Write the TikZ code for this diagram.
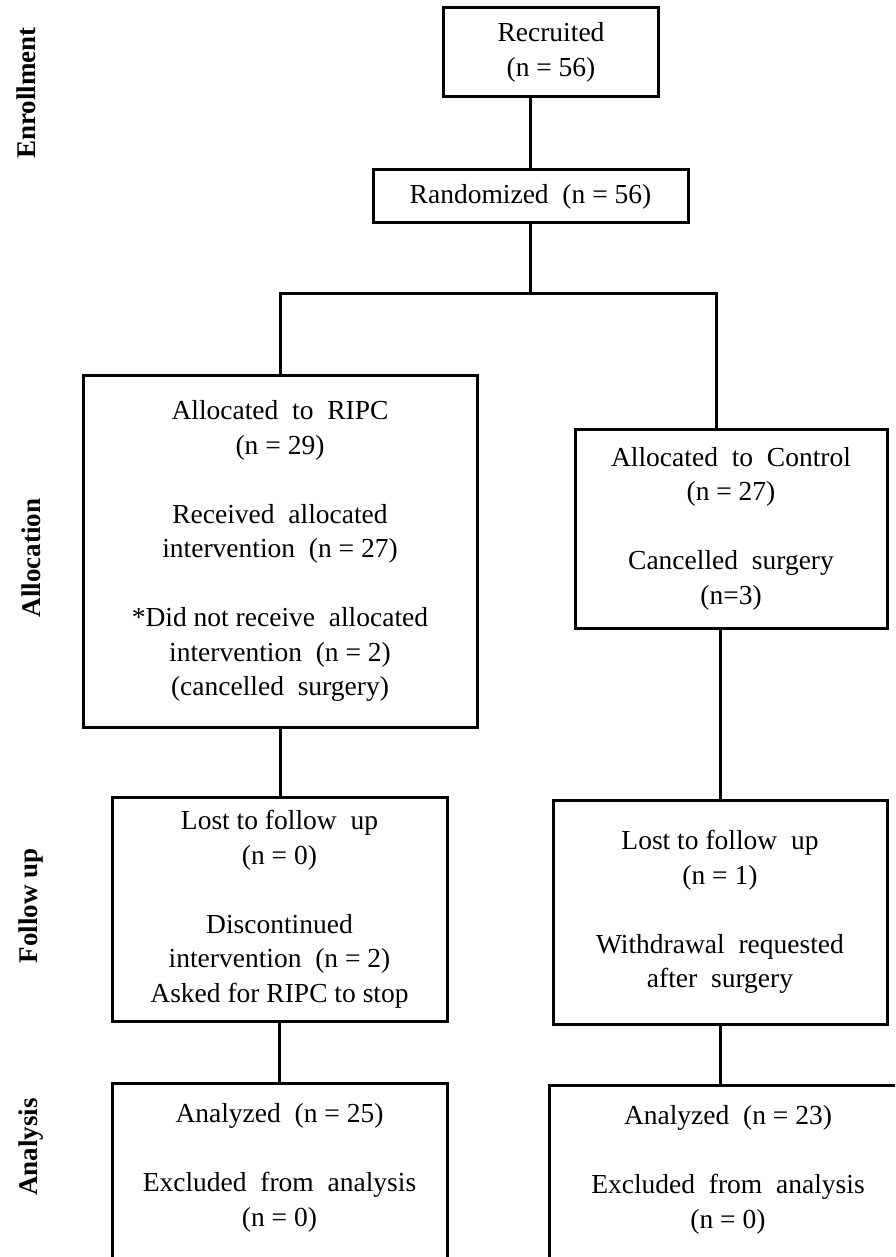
\documentclass[tikz,border=0pt]{standalone}
\usepackage{fontspec}
\setmainfont{Liberation Serif}
\usepackage{tikz}
\usetikzlibrary{positioning, calc}
\newcommand{\wsp}{\ \ }

\begin{document}
\begin{tikzpicture}[
    x=0.5pt, y=-0.5pt,
    bx/.style={draw, line width=1.5pt, align=center,
               inner sep=4pt,
               font=\fontsize{13.75}{17.25}\selectfont},
    side/.style={rotate=90, inner sep=0pt,
                 font=\fontsize{13.5}{16}\selectfont\bfseries},
    ln/.style={line width=1.5pt}
  ]
    \useasboundingbox (0,0) rectangle (895,1257);
    \clip (0,0) rectangle (895,1257);

    %% Stage labels ─────────────────────────────
    \node[side] (lEnr) at (26,93)   {Enrollment};
    \node[side] (lAlc) at (31,558)  {Allocation};
    \node[side] (lFup) at (31,906)  {Follow up};
    \node[side] (lAnl) at (31,1147) {Analysis};

    %% Enrollment ───────────────────────────────
    \node[bx, minimum width=107.5pt, minimum height=44.5pt]
          (rec) at (551,52.5) {Recruited\\(n = 56)};
    \node[bx, minimum width=157.5pt, minimum height=26.5pt]
          (rnd) at (530.5,196.5) {Randomized\wsp(n = 56)};
    \draw[ln] (rnd.north) -- (rnd.north |- rec.south);

    %% Allocation ───────────────────────────────
    \node[bx, minimum width=197pt, minimum height=176pt]
          (alcA) at (280,551)
          {Allocated\wsp to\wsp RIPC\\(n = 29)\\[17.25pt]
           Received\wsp allocated\\intervention\wsp(n = 27)\\[17.25pt]
           *Did not receive\wsp allocated\\intervention\wsp(n = 2)\\
           (cancelled\wsp surgery)};
    \node[bx, minimum width=156pt, minimum height=99.5pt]
          (alcB) at (731,528.5)
          {Allocated\wsp to\wsp Control\\(n = 27)\\[17.25pt]
           Cancelled\wsp surgery\\(n=3)};

    \coordinate (split) at (530.5,293);
    \draw[ln] (rnd.south) -- (split);
    \draw[ln] (alcA.north) |- (split) -| ([xshift=-7.5pt]alcB.north);

    %% Follow up ────────────────────────────────
    \node[bx, minimum width=167.5pt, minimum height=112pt]
          (fupA) at (279.5,909)
          {Lost to follow\wsp up\\(n = 0)\\[17.25pt]
           Discontinued\\intervention\wsp(n = 2)\\
           Asked for RIPC to stop};
    \node[bx, minimum width=167pt, minimum height=112pt]
          (fupB) at (720,912)
          {Lost to follow\wsp up\\(n = 1)\\[17.25pt]
           Withdrawal\wsp requested\\after\wsp surgery};

    \draw[ln] (alcA.south) -- (alcA.south |- fupA.north);
    \draw[ln] (fupB.north) -- (fupB.north |- alcB.south);

    %% Analysis ─────────────────────────────────
    \node[bx, anchor=north, minimum width=167.5pt,
          inner ysep=10pt, text depth=30pt]
          (anlA) at (279.5,1082)
          {Analyzed\wsp(n = 25)\\[17.25pt]
           Excluded\wsp from\wsp analysis\\(n = 0)};
    \node[bx, anchor=north, minimum width=179pt,
          inner ysep=10pt, text depth=30pt]
          (anlB) at (728,1084)
          {Analyzed\wsp(n = 23)\\[17.25pt]
           Excluded\wsp from\wsp analysis\\(n = 0)};

    \draw[ln] (fupA.south) -- (fupA.south |- anlA.north);
    \draw[ln] (fupB.south) -- (fupB.south |- anlB.north);

  \end{tikzpicture}
\end{document}
